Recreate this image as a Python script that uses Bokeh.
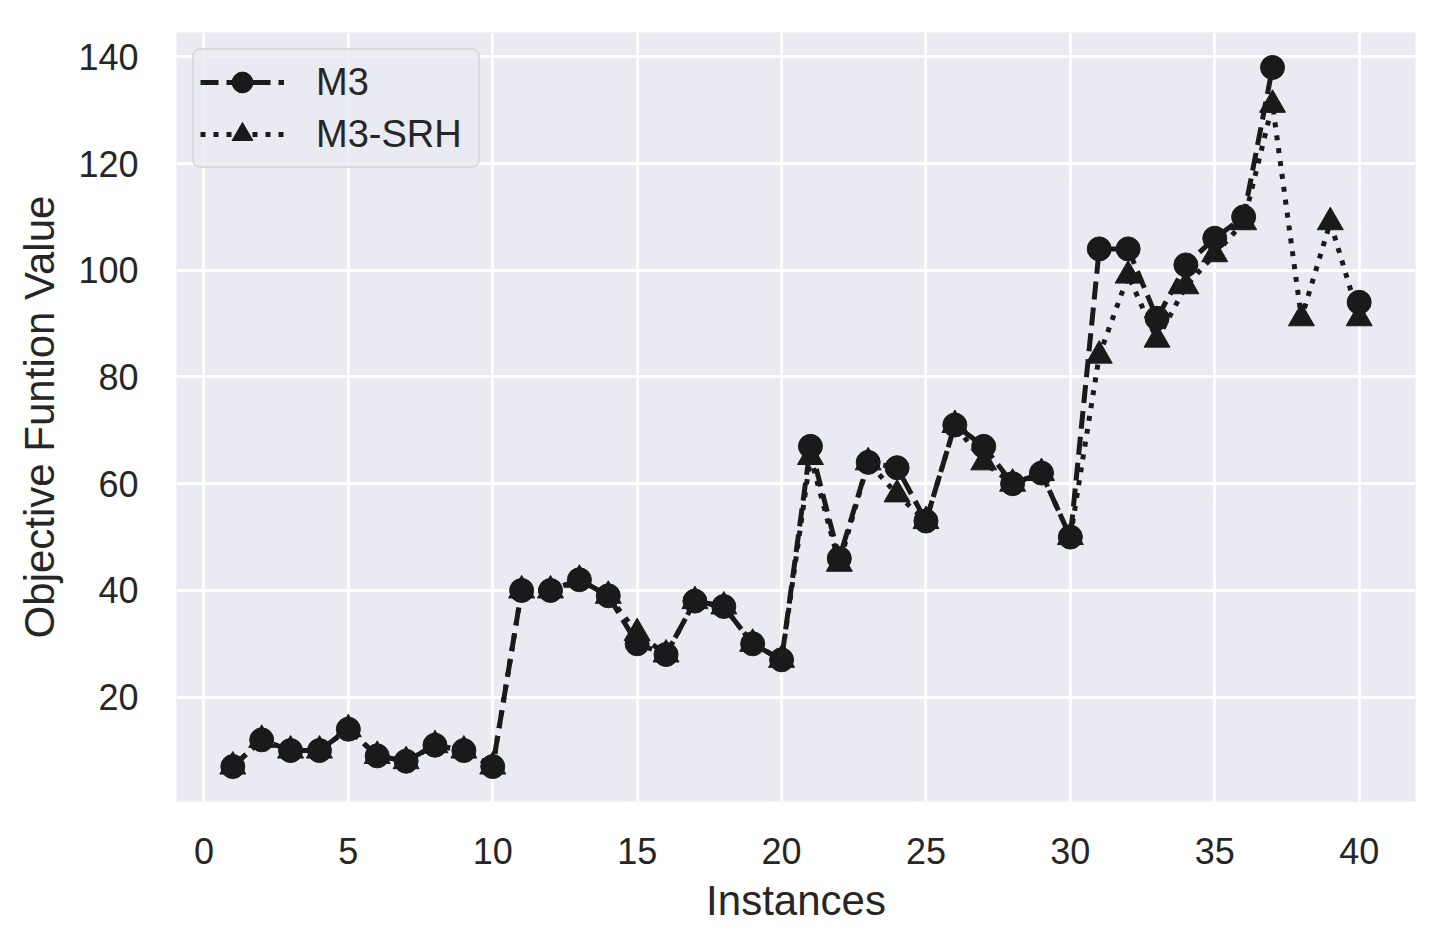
import numpy as np
from bokeh.plotting import figure
from bokeh.models import Range1d, FixedTicker, Legend, LegendItem, ColumnDataSource
from bokeh.embed import file_html
from bokeh.resources import INLINE

instances = list(range(1, 41))
m3 = [7, 12, 10, 10, 14, 9, 8, 11, 10, 7,
      40, 40, 42, 39, 30, 28, 38, 37, 30, 27,
      67, 46, 64, 63, 53, 71, 67, 60, 62, 50,
      104, 104, 91, 101, 106, 110, 138, np.nan, np.nan, 94]
m3_srh = [7, 12, 10, 10, 14, 9, 8, 11, 10, 7,
          40, 40, 42, 39, 32, 28, 38, 37, 30, 27,
          65, 45, 64, 58, 53, 71, 64, 60, 62, 50,
          84, 99, 87, 97, 103, 109, 131, 91, 109, 91]
x_ticks = [0, 5, 10, 15, 20, 25, 30, 35, 40]
y_ticks = [20, 40, 60, 80, 100, 120, 140]

FONT = "Liberation Sans"
TXT = "#262626"
INK = "#1a1a1a"

src = ColumnDataSource(dict(x=instances, m3=m3, srh=m3_srh))

p = figure(width=1448, height=947, output_backend="svg", toolbar_location=None,
           x_range=Range1d(-0.95, 41.95), y_range=Range1d(0.45, 144.55),
           min_border_left=176, min_border_right=33, min_border_top=32, min_border_bottom=146)
p.background_fill_color = "#EAEAF2"
p.border_fill_color = "white"
p.outline_line_color = None

for g in (p.xgrid[0], p.ygrid[0]):
    g.grid_line_color = "white"
    g.grid_line_width = 3
p.xaxis.ticker = FixedTicker(ticks=x_ticks)
p.yaxis.ticker = FixedTicker(ticks=y_ticks)
p.xgrid.ticker = FixedTicker(ticks=x_ticks)
p.ygrid.ticker = FixedTicker(ticks=y_ticks)

for ax in (p.xaxis[0], p.yaxis[0]):
    ax.axis_line_color = None
    ax.major_tick_line_color = None
    ax.minor_tick_line_color = None
    ax.major_tick_in = 0
    ax.major_tick_out = 0
    ax.major_label_text_font = FONT
    ax.major_label_text_font_size = "36px"
    ax.major_label_text_color = TXT
    ax.axis_label_text_font = FONT
    ax.axis_label_text_font_size = "42px"
    ax.axis_label_text_font_style = "normal"
    ax.axis_label_text_color = TXT

p.xaxis.axis_label = "Instances"
p.yaxis.axis_label = "Objective Funtion Value"
p.xaxis.major_label_standoff = 36
p.yaxis.major_label_standoff = 38
p.xaxis.axis_label_standoff = 10
p.yaxis.axis_label_standoff = 12

l1 = p.line("x", "m3", source=src, line_color=INK, line_width=5, line_dash="18 8")
s1 = p.scatter("x", "m3", source=src, marker="circle", size=24, fill_color=INK, line_color=INK)
l2 = p.line("x", "srh", source=src, line_color=INK, line_width=5, line_dash="5 8")
s2 = p.scatter("x", "srh", source=src, marker="triangle", size=26, fill_color=INK, line_color=INK)

legend = Legend(items=[LegendItem(label="M3", renderers=[l1, s1]),
                       LegendItem(label="M3-SRH", renderers=[l2, s2])],
                location="top_left")
legend.margin = 16
legend.padding = 6
legend.spacing = 0
legend.glyph_width = 84
legend.glyph_height = 52
legend.label_height = 52
legend.label_width = 156
legend.label_standoff = 32
legend.label_text_font = FONT
legend.label_text_font_size = "38px"
legend.label_text_color = TXT
legend.border_line_color = "#cccccc"
legend.border_line_width = 2.5
legend.border_radius = 8
legend.background_fill_color = "#EAEAF2"
legend.background_fill_alpha = 0.8
p.add_layout(legend)

open("out.html", "w").write(file_html(p, INLINE))
